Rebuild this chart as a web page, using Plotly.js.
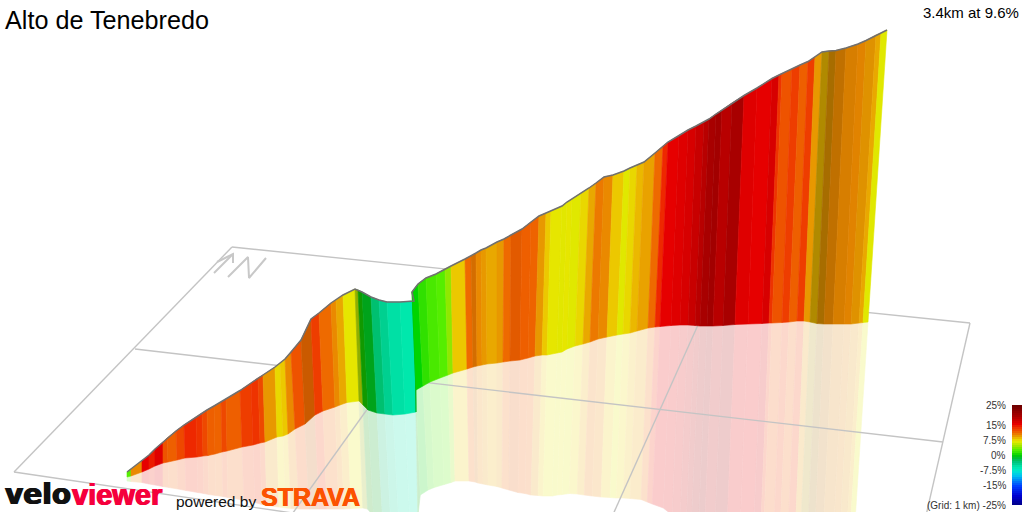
<!DOCTYPE html>
<html><head><meta charset="utf-8">
<script src="https://cdn.plot.ly/plotly-3.0.1.min.js"></script>
<style>html,body{margin:0;padding:0;background:#fff}#c{width:1024px;height:512px}</style>
</head><body><div id="c"></div>
<script>
// Wall stations (screen space of the oblique view)
const baseX=[127,131,142,149,155,163,168,177,185,197,203,208,215,222,227,242,253,260,265,277,283,288,295,305,315,323,335,340,347,359,363,368,377,385,393,405,416,416,423,430,440,448,453,467,473,477,482,487,497,503,510,520,528,535,542,547,557,562,567,575,583,590,598,607,617,623,630,637,648,655,660,671,680,688,695,700,707,713,723,735,748,762,769,772,782,789,797,804,810,817,824,833,844,851,859,863,868];
const topX=[127,131,142,149,155,163,167,176,184,196,202,207,214,221,226,240,251,258,263,275,280,285,291,301,311,319,331,336,343,355,358,362,371,379,387,400,414,412,418,426,436,445,451,465,471,476,481,486,497,504,511,522,531,539,546,551,562,567,572,581,589,596,604,613,624,630,637,644,655,663,668,679,688,696,704,709,716,722,732,744,757,772,779,782,792,800,808,815,822,829,836,846,858,866,876,881,887];
const topY=[472,469,461,455,449,442,438,431,425,417,413,410,406,402,399,390.5,383,378,375,367,363,359,352,340,319,313,303,300,295,289,290,292,297,300,302,302,301,292,284,278,274,269,266,259,256,253,250,248,242,239,235,229,222,216,213,211,206,202,199,193,188,183,177,175,171,168,165,162,153,146,142,135.5,130,126,122,119,114,110,103,95.5,88,78.5,75,73.5,69,65,61.5,57,52,51,50.5,48,44,40.5,35,33,30];
const baseY=[477,476,472,469,466,463,462,460,458,457,456,455.5,454,452,451,447,445,443,442,437,436,434,429,424,415,411,407,405,402.5,401,405,410,413,414,415,414,412,390,386,382,378,375,373,369,367,366,365,364,363,362,361,360,358,356,355,355,353,352,349,346,344,342,339,337,335,334,333,331,328,327,326.5,325.5,325,325,325.5,326,326,326,325.5,324.5,324,323.5,323,323,322.5,322,321,321,322,323.5,324,324,324,324,323,322.5,322];
const mirrorY=[481,481.5,482.5,484,485,486.5,487.5,489,490.5,492.5,493.5,494.5,495.5,496.5,497.5,500,502.5,504.5,505.5,507,508,508.5,509,509,509,509,509,509,508.5,508,509,516,516,516,516,516,516,495,490,487.5,484.5,482.5,481,481,482,483,484,485,486.5,488,490,492.5,493.5,495,495.5,496,496,495,494.5,493.5,494,495,496,497,497.5,498,498,498.5,499.5,502,504,508,515,525,525,525,525,525,525,525,525,525,525,525,525,525,525,525,525,525,525,525,525,525,525,525,525];
// Gradient (%) of each slice between two stations
const sliceGrade=[3,10.5,16,15,16.5,12.5,12,13,14.5,14,13,12,11.8,13,12,13.5,14,13,10,8,8.5,10.5,12.5,11.5,13.5,11.5,10.5,9.5,7.5,6,1,-0.5,-2.5,-4,-5,-5.5,0.5,0.5,1.5,2.5,3,4.5,8.5,11.5,11,10.5,10,9.5,10,11.5,12,12,11.8,10,8.5,7.5,7.2,7.5,7,8,9.5,11,10.5,8.5,7,8,9,9.7,11.5,14.5,16,16.5,17,18,19,20,20.5,19,20,16.5,16,17,14,12.5,13.5,12,13.5,10,9,10,10.5,10.5,10.5,10,9.5,7];
// Shading of the slice by its facing direction
const sliceShade=[1,1,1,1,1,1,1,1,1,1,1,1,1,1,1,1,1,1,1,1,1,1,1,0.85,1,1,1,1,1,0.75,0.7,0.85,1,1,1,1,0.8,1,1,1,1,1,1,1,0.9,1,1,1,1,1,0.95,1,1,1,1,1,1,1,1,1,1,1,1,1,1,1,1,1,1,1,1,1,1,1,1,1,1,1,1,1,1,1,1,1,1,1,1,1,0.75,0.72,0.82,0.92,0.96,0.96,1,1];
// Legend
const legendGrades=[25,24,23,22,21,20,19,18,17,16,15,14,13,12,11,10,9,8,7,6,5,4,3,2,1,0,-1,-2,-3,-4,-5,-6,-7,-8,-9,-10,-11,-12,-13,-14,-15,-16,-17,-18,-19,-20,-21,-22,-23,-24];
const legendEdges=[405,407,409,411,413,415,417,419,421,423,425,427,429,431,433,435,437,439,441,443,445,447,449,451,453,455,457,459,461,463,465,467,469,471,473,475,477,479,481,483,485,487,489,491,493,495,497,499,501,503,505];
const legendLabels=["25%","15%","7.5%","0%","-7.5%","-15%","(Grid: 1 km) -25%"];
const legendLabelY=[405,425,440,455,470,485,505];
// Ground grid and compass (polylines in view space)
const gridLinesX=[[232,970],[232,14],[970,925],[14,340],[135,943],[467,290],[715,611]];
const gridLinesY=[[247,323],[247,472],[323,520],[472,520],[349,442],[270,517],[287,519]];
const compassX=[[214,233],[217,233,233],[228,248,249,266]];
const compassY=[[273,254],[262,254,263],[277,257,278,258]];
// Gradient colour stops
const stopGrade=[-25,-20,-15,-10,-7.5,-5.5,-5,-4,-2.5,-0.5,0.5,1.5,3,4.5,7,7.5,8.5,10,11.5,13,14.5,16,18,20,25];
const stopColor=["#000080","#0000d0","#0040ff","#00c0f0","#00e8d0","#00e8ac","#00e0a5","#00d090","#00c070","#00c020","#00d400","#30e000","#55ee00","#90e800","#e0e800","#e6e600","#ecc800","#e89800","#ee6a00","#ee4800","#ee2800","#e60000","#c80000","#a80000","#700000"];

function rgb(h){return [1,3,5].map(i=>parseInt(h.substr(i,2),16));}
function gradeRgb(g){
  let i=0; while(i<stopGrade.length-2 && g>stopGrade[i+1]) i++;
  const t=Math.min(1,Math.max(0,(g-stopGrade[i])/(stopGrade[i+1]-stopGrade[i])));
  const a=rgb(stopColor[i]),b=rgb(stopColor[i+1]);
  return a.map((v,k)=>v+(b[k]-v)*t);
}
function css(c){return "rgb("+c.map(Math.round).join(",")+")";}

const traces=[];
const n=sliceGrade.length;
const mirrorX=baseX.map((b,i)=>b-(topX[i]-b)*(mirrorY[i]-baseY[i])/(baseY[i]-topY[i]));
// reflection on the ground
for(let i=0;i<n;i++){
  const c=gradeRgb(sliceGrade[i]).map(v=>v*sliceShade[i]*0.2+255*0.8);
  traces.push({type:"scatter",mode:"lines",fill:"toself",fillcolor:css(c),line:{color:css(c),width:0.6},
    x:[baseX[i],baseX[i+1],mirrorX[i+1],mirrorX[i],baseX[i]],
    y:[baseY[i],baseY[i+1],mirrorY[i+1],mirrorY[i],baseY[i]],hoverinfo:"skip"});
}
// grid
gridLinesX.forEach((x,i)=>traces.push({type:"scatter",mode:"lines",x:x,y:gridLinesY[i],line:{color:"#c4c4c4",width:1.4},hoverinfo:"skip"}));
compassX.forEach((x,i)=>traces.push({type:"scatter",mode:"lines",x:x,y:compassY[i],line:{color:"#c8c8c8",width:2},hoverinfo:"skip"}));
// wall
for(let i=0;i<n;i++){
  const c=gradeRgb(sliceGrade[i]).map(v=>v*sliceShade[i]);
  traces.push({type:"scatter",mode:"lines",fill:"toself",fillcolor:css(c),line:{color:css(c),width:0.6},
    x:[topX[i],topX[i+1],baseX[i+1],baseX[i],topX[i]],
    y:[topY[i],topY[i+1],baseY[i+1],baseY[i],topY[i]],hoverinfo:"skip"});
}
// top outline
traces.push({type:"scatter",mode:"lines",x:topX,y:topY,line:{color:"#707070",width:1.5},hoverinfo:"skip"});
// legend bar
traces.push({type:"heatmap",x:[1012,1022],y:legendEdges,z:legendGrades.map(g=>[g]),zmin:-25,zmax:25,showscale:false,hoverinfo:"skip",
  colorscale:stopGrade.map((g,i)=>[(g+25)/50,stopColor[i]])});

const sans="Liberation Sans, Arial, sans-serif";
const annos=[
 {x:4,y:20,text:"Alto de Tenebredo",xanchor:"left",yanchor:"middle",font:{family:sans,size:25.2,color:"#000"}},
 {x:1019.5,y:12,text:"3.4km at 9.6%",xanchor:"right",yanchor:"middle",font:{family:sans,size:15,color:"#000"}},
 {x:4,y:512,text:"velo",xanchor:"left",yanchor:"bottom",font:{family:"DejaVu Sans",size:28,color:"#111",weight:700,shadow:"0.7px 0 0 #111,-0.7px 0 0 #111"}},
 {x:71,y:512,text:"viewer",xanchor:"left",yanchor:"bottom",font:{family:sans,size:29,color:"#f5003c",weight:700,shadow:"0.7px 0 0 #f5003c,-0.7px 0 0 #f5003c"}},
 {x:175,y:501,text:"powered by",xanchor:"left",yanchor:"middle",font:{family:sans,size:15.5,color:"#111"}},
 {x:260,y:512,text:"STRAVA",xanchor:"left",yanchor:"bottom",font:{family:sans,size:25,color:"#fc5200",weight:700,shadow:"0.5px 0 0 #fc5200,-0.5px 0 0 #fc5200"}}
];
legendLabels.forEach((t,i)=>annos.push({x:1007,y:legendLabelY[i],text:t,xanchor:"right",yanchor:"middle",font:{family:sans,size:10,color:"#333"}}));
annos.forEach(a=>{a.showarrow=false;a.xref="x";a.yref="y";a.borderpad=0;});

Plotly.newPlot("c",traces,{
  width:1024,height:512,margin:{l:0,r:0,t:0,b:0},showlegend:false,hovermode:false,
  paper_bgcolor:"#fff",plot_bgcolor:"#fff",
  xaxis:{range:[0,1024],visible:false,fixedrange:true},
  yaxis:{range:[512,0],visible:false,fixedrange:true},
  annotations:annos
},{displayModeBar:false,staticPlot:true});
</script></body></html>
